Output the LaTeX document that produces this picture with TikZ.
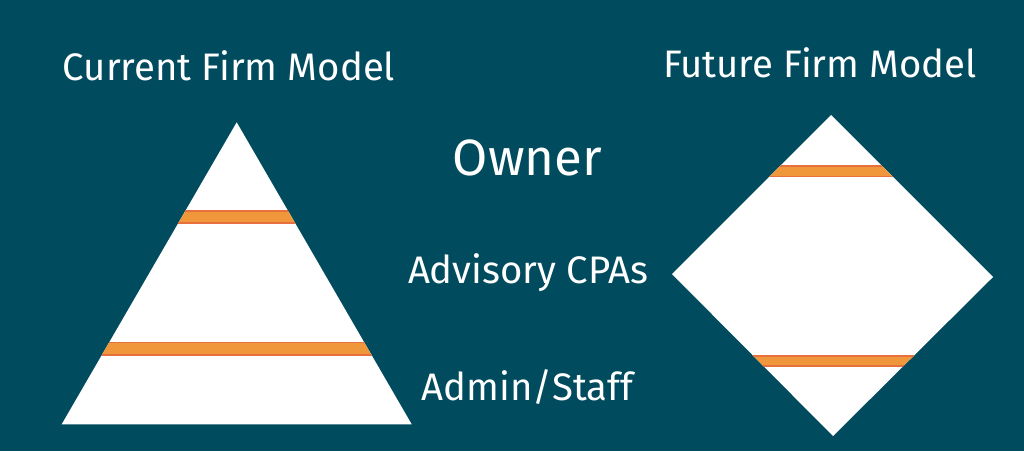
\documentclass[tikz,border=0pt]{standalone}
\usepackage{fontspec}
\setmainfont{Fira Sans}
\definecolor{teal}{HTML}{004C5E}
\definecolor{band}{HTML}{F0973B}
\definecolor{bandedge}{HTML}{E8703C}
\begin{document}
\begin{tikzpicture}[x=0.01cm,y=-0.01cm, line join=round,
	title/.style={text=white, font=\fontsize{10.9}{13}\selectfont, anchor=base},
	level/.style={text=white, font=\fontsize{10.9}{13}\selectfont, anchor=base},
	stripe/.style={fill=band, draw=bandedge, line width=0.3pt}]
	\fill[teal] (0,0) rectangle (1024,451);
	\useasboundingbox (0,0) rectangle (1024,451);
	%Tam giac: mo hinh hien tai
	\path
	(236.7,122.3) coordinate (T) 
	(61.7,424.3) coordinate (L) 
	(411.7,424.3) coordinate (R)
	;
	\fill[white] (T)--(L)--(R)--cycle;
	\begin{scope}
	\clip (T)--(L)--(R)--cycle;
	\draw[stripe] (0,211) rectangle (1024,223);
	\draw[stripe] (0,342.5) rectangle (1024,355);
	\end{scope}
	%Hinh thoi: mo hinh tuong lai
	\path
	(831,115) coordinate (D_t) 
	(672,274) coordinate (D_l) 
	(993,277) coordinate (D_r)
	(833,436) coordinate (D_b)
	;
	\fill[white] (D_t)--(D_l)--(D_b)--(D_r)--cycle;
	\begin{scope}
	\clip (D_t)--(D_l)--(D_b)--(D_r)--cycle;
	\draw[stripe] (0,166) rectangle (1024,176.5);
	\draw[stripe] (0,356) rectangle (1024,366);
	\end{scope}
	\node[title] (current) at (229,80) {Current Firm Model};
	\node[title] (future) at (820,77) {Future Firm Model};
	\node[level, font=\fontsize{14.5}{17}\selectfont] (owner) at (527.5,175) {Owner};
	\node[level] (advisory) at (528,283) {Advisory CPAs};
	\node[level] (admin) at (527.5,400) {Admin/Staff};
\end{tikzpicture}
\end{document}
